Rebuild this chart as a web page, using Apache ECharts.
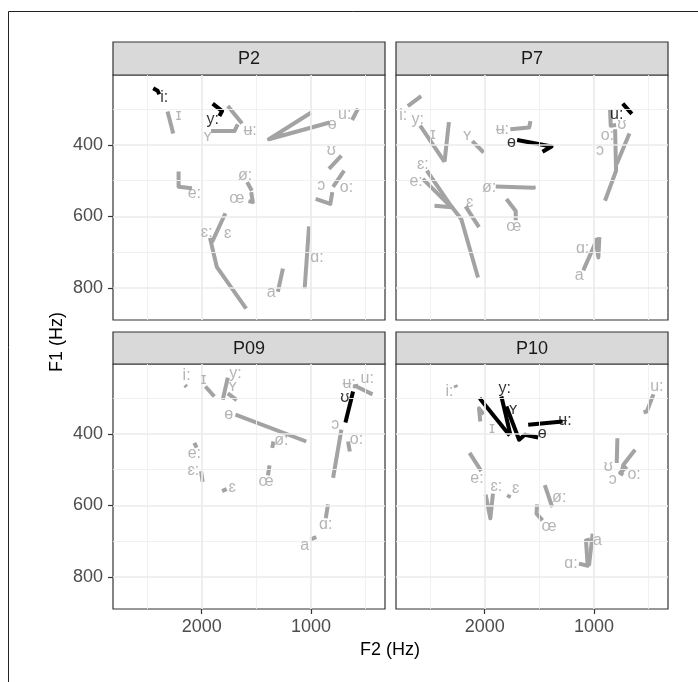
<!DOCTYPE html>
<html>
<head>
<meta charset="utf-8">
<script src="https://cdn.jsdelivr.net/npm/echarts@6/dist/echarts.min.js"></script>
<style>
  html, body { margin: 0; padding: 0; background: #fff; }
  #chart { width: 698px; height: 682px; }
</style>
</head>
<body>
<div id="chart"></div>
<script>
// axis ticks (Hz)
var f2Ticks = [2000, 1000]
var f2Minor = [2500, 1500, 500]
var f1Ticks = [400, 600, 800]
var f1Minor = [300, 500, 700]
var f2Range = [323, 2811]
var f1Range = [204, 890]

var panelNames = ['P2', 'P7', 'P09', 'P10']

// P2 : vowel trajectories [F2, F1]
var p2Vowels = ['i:', 'ɪ', 'y:', 'ʏ', 'ʉ:', 'ɵ', 'u:', 'ʊ', 'o:', 'ɔ', 'ø:', 'œ', 'e:', 'ɛ:', 'ɛ', 'a', 'ɑ:']
var p2Tracks = [
  [[2443, 241], [2403, 248], [2388, 258]],
  [[2312, 306], [2260, 368]],
  [[1899, 284], [1813, 305], [1838, 319]],
  [[1914, 361], [1700, 361], [1670, 342]],
  [[1761, 291], [1630, 340]],
  [[997, 309], [1385, 384], [829, 337]],
  [[569, 298], [624, 330]],
  [[722, 430], [835, 467]],
  [[697, 472], [798, 517]],
  [[957, 551], [823, 565], [805, 532]],
  [[1584, 504], [1541, 528]],
  [[1547, 532], [1532, 560], [1572, 557]],
  [[2211, 474], [2211, 517], [2089, 521]],
  [[1783, 591], [1905, 672]],
  [[1924, 660], [1862, 741], [1593, 858]],
  [[1303, 811], [1257, 746]],
  [[1058, 802], [1018, 628]]
]
var p2Labels = [[2342, 266], [2211, 319], [1899, 328], [1945, 377], [1557, 361], [807, 342], [691, 316], [814, 416],
  [676, 519], [905, 514], [1602, 486], [1679, 551], [2067, 537], [1954, 644], [1761, 647], [1364, 813], [945, 714]]
var p2Dark = ['i:', 'y:']

// P7
var p7Vowels = ['i:', 'y:', 'ɪ', 'ʏ', 'ʉ:', 'ɵ', 'u:', 'ʊ', 'o:', 'ɔ', 'ɛ:', 'e:', 'ɛ', 'ø:', 'œ', 'ɑ:', 'a']
var p7Tracks = [
  [[2703, 291], [2581, 263]],
  [[2590, 346], [2367, 447]],
  [[2327, 336], [2367, 447]],
  [[2113, 389], [2009, 421]],
  [[1765, 356], [1593, 351], [1581, 333]],
  [[1703, 386], [1388, 404], [1471, 419]],
  [[737, 284], [654, 313]],
  [[853, 300], [847, 346], [798, 344]],
  [[676, 368], [792, 453]],
  [[807, 356], [798, 472], [899, 556]],
  [[2529, 472], [2321, 565], [2214, 607], [2061, 771]],
  [[2566, 495], [2306, 574], [2459, 570]],
  [[2174, 572], [2052, 630]],
  [[1899, 516], [1550, 520], [1556, 514]],
  [[1801, 551], [1716, 585], [1716, 611]],
  [[988, 660], [960, 715], [951, 658]],
  [[1098, 751], [976, 667]]
]
var p7Labels = [[2745, 319], [2612, 330], [2474, 370], [2159, 375], [1838, 356], [1755, 392], [792, 314], [746, 342],
  [878, 374], [945, 416], [2566, 455], [2627, 503], [2138, 560], [1960, 518], [1734, 628], [1104, 690], [1135, 767]]
var p7Dark = ['ɵ', 'u:']

// P09
var p09Vowels = ['i:', 'ɪ', 'y:', 'ʏ', 'ɵ', 'ʉ:', 'u:', 'ʊ', 'ɔ', 'o:', 'ø:', 'œ', 'e:', 'ɛ:', 'ɛ', 'ɑ:', 'a']
var p09Tracks = [
  [[2153, 263], [2138, 268]],
  [[1966, 267], [1884, 295]],
  [[1761, 242], [1807, 304]],
  [[1761, 286], [1679, 305]],
  [[1691, 346], [1043, 421]],
  [[615, 267], [569, 265]],
  [[584, 267], [437, 289]],
  [[615, 281], [685, 368]],
  [[722, 388], [798, 523]],
  [[661, 421], [645, 449]],
  [[1343, 421], [1355, 439]],
  [[1379, 488], [1394, 516]],
  [[2067, 425], [2046, 438]],
  [[2006, 504], [1991, 534]],
  [[1813, 560], [1771, 554]],
  [[844, 597], [865, 636]],
  [[1006, 695], [951, 689]]
]
var p09Labels = [[2138, 237], [1982, 249], [1691, 230], [1716, 267], [1752, 346], [651, 258], [486, 246], [691, 298],
  [777, 374], [584, 416], [1272, 419], [1410, 534], [2067, 456], [2076, 502], [1722, 549], [865, 655], [1058, 712]]
var p09Dark = ['ʊ']

// P10
var p10Vowels = ['i:', 'ɪ', 'y:', 'ʏ', 'ɵ', 'ʉ:', 'u:', 'ʊ', 'o:', 'ɔ', 'e:', 'ɛ:', 'ɛ', 'ø:', 'œ', 'a', 'ɑ:']
var p10Tracks = [
  [[2269, 263], [2260, 270]],
  [[2040, 365], [2052, 328], [2009, 345]],
  [[2046, 300], [1771, 404]],
  [[1847, 295], [1807, 346], [1765, 402]],
  [[1801, 323], [1685, 416], [1633, 402], [1511, 410]],
  [[1602, 374], [1287, 365]],
  [[456, 289], [517, 337], [547, 339]],
  [[786, 412], [792, 481]],
  [[624, 444], [731, 486], [746, 504]],
  [[700, 491], [761, 509], [731, 514]],
  [[2138, 453], [2031, 504]],
  [[1991, 570], [1948, 636], [1924, 567]],
  [[1786, 579], [1771, 570]],
  [[1450, 543], [1382, 605]],
  [[1520, 597], [1526, 623], [1471, 642]],
  [[1012, 679], [1046, 769]],
  [[1138, 763], [1058, 769], [1073, 698], [1037, 695]]
]
var p10Labels = [[2321, 280], [1933, 386], [1817, 274], [1740, 333], [1474, 400], [1266, 363], [425, 267], [869, 491],
  [633, 514], [829, 528], [2070, 525], [1893, 548], [1716, 553], [1318, 579], [1410, 660], [969, 698], [1211, 763]]
var p10Dark = ['y:', 'ʏ', 'ɵ', 'ʉ:']

var panelData = [
  [p2Vowels, p2Tracks, p2Labels, p2Dark],
  [p7Vowels, p7Tracks, p7Labels, p7Dark],
  [p09Vowels, p09Tracks, p09Labels, p09Dark],
  [p10Vowels, p10Tracks, p10Labels, p10Dark]
]

// layout of the 2x2 facets
var colLeft = [113, 396]
var rowTop = [75, 364]
var stripTop = [42, 332]
var panelW = 272
var panelH = 245

var grey = '#a3a3a3'
var dark = '#000000'
var font = 'Liberation Sans, Arial, sans-serif'

var myChart = echarts.init(document.getElementById('chart'))

var grids = [], xAxes = [], yAxes = [], series = [], graphics = []

function plainNum(v) { return String(v) }

panelNames.forEach(function (name, i) {
  var col = i % 2, row = Math.floor(i / 2)
  var d = panelData[i]
  grids.push({
    left: colLeft[col], top: rowTop[row], width: panelW, height: panelH,
    show: true, borderColor: '#333333', borderWidth: 1.2, backgroundColor: '#ffffff'
  })
  xAxes.push({
    gridIndex: i, type: 'value', min: f2Range[0], max: f2Range[1], inverse: true,
    axisLine: { show: false }, splitLine: { show: false },
    axisTick: { show: row === 1, customValues: f2Ticks, length: 5, lineStyle: { color: '#333333', width: 1.2 } },
    axisLabel: { show: row === 1, customValues: f2Ticks, formatter: plainNum, margin: 9, fontSize: 18, color: '#4d4d4d', fontFamily: font }
  })
  yAxes.push({
    gridIndex: i, type: 'value', min: f1Range[0], max: f1Range[1], inverse: true,
    axisLine: { show: false }, splitLine: { show: false },
    axisTick: { show: col === 0, customValues: f1Ticks, length: 5, lineStyle: { color: '#333333', width: 1.2 } },
    axisLabel: { show: col === 0, customValues: f1Ticks, formatter: plainNum, margin: 10, fontSize: 18, color: '#4d4d4d', fontFamily: font }
  })

  // panel grid lines
  var minorStyle = { color: '#efefef', width: 0.9, type: 'solid' }
  var majorStyle = { color: '#ebebeb', width: 1.7, type: 'solid' }
  var lines = []
  f2Minor.forEach(function (v) { lines.push({ xAxis: v, lineStyle: minorStyle }) })
  f1Minor.forEach(function (v) { lines.push({ yAxis: v, lineStyle: minorStyle }) })
  f2Ticks.forEach(function (v) { lines.push({ xAxis: v, lineStyle: majorStyle }) })
  f1Ticks.forEach(function (v) { lines.push({ yAxis: v, lineStyle: majorStyle }) })
  series.push({
    type: 'line', xAxisIndex: i, yAxisIndex: i, data: [], z: 1,
    markLine: { silent: true, symbol: 'none', label: { show: false }, animation: false, data: lines }
  })

  // vowel trajectories
  d[0].forEach(function (v, k) {
    var isDark = d[3].indexOf(v) >= 0
    series.push({
      type: 'line', name: name + ' ' + v, xAxisIndex: i, yAxisIndex: i,
      data: d[1][k], showSymbol: false, symbol: 'none', z: isDark ? 4 : 3,
      lineStyle: { color: isDark ? dark : grey, width: 4, join: 'round', cap: 'butt' }
    })
  })

  // vowel labels
  series.push({
    type: 'scatter', xAxisIndex: i, yAxisIndex: i, symbolSize: 1, z: 5,
    itemStyle: { color: 'rgba(0,0,0,0)' },
    label: { show: true, position: 'inside', formatter: '{b}', fontSize: 16, fontFamily: 'Liberation Sans, DejaVu Sans, sans-serif' },
    data: d[0].map(function (v, k) {
      var isDark = d[3].indexOf(v) >= 0
      return { name: v, value: d[2][k], label: { color: isDark ? dark : grey } }
    })
  })

  // strip
  graphics.push({
    type: 'rect', shape: { x: colLeft[col], y: stripTop[row], width: panelW, height: rowTop[row] - stripTop[row] },
    style: { fill: '#d9d9d9', stroke: '#333333', lineWidth: 1.2 }
  })
  graphics.push({
    type: 'text', x: colLeft[col] + panelW / 2, y: (stripTop[row] + rowTop[row]) / 2 + 1,
    style: { text: name, fill: '#1a1a1a', font: '18px ' + font, align: 'center', verticalAlign: 'middle' }
  })
})

// outer frame and axis titles
graphics.push({
  type: 'rect', shape: { x: 8.5, y: 11.5, width: 720, height: 720 },
  style: { fill: 'none', stroke: '#222222', lineWidth: 1 }
})
graphics.push({
  type: 'text', x: 390, y: 650,
  style: { text: 'F2 (Hz)', fill: '#000', font: '18px ' + font, align: 'center', verticalAlign: 'middle' }
})
graphics.push({
  type: 'text', x: 57, y: 342, rotation: Math.PI / 2,
  style: { text: 'F1 (Hz)', fill: '#000', font: '18px ' + font, align: 'center', verticalAlign: 'middle' }
})

var option = {
  animation: false,
  backgroundColor: '#ffffff',
  grid: grids,
  xAxis: xAxes,
  yAxis: yAxes,
  series: series,
  graphic: graphics
}

myChart.setOption(option)
</script>
</body>
</html>
